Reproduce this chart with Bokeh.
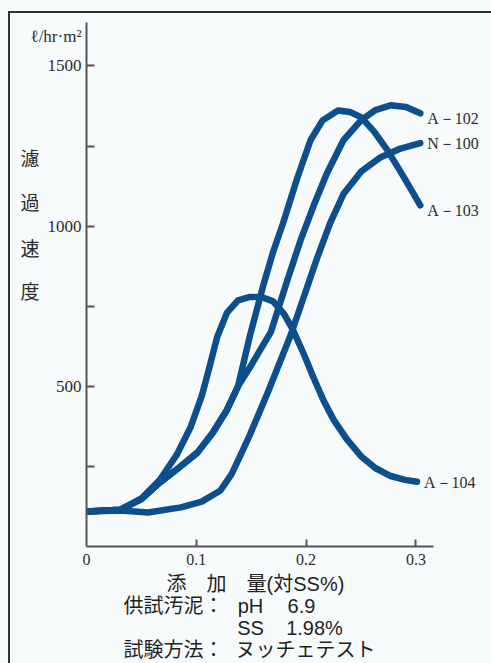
from bokeh.plotting import figure
from bokeh.models import Range1d, FixedTicker, LinearAxis
from bokeh.core.properties import value
from bokeh.embed import file_html
from bokeh.resources import INLINE

# Filtration rate (l/hr·m2) against polymer dose (% on SS) for four flocculants
dose_a102 = [0.000, 0.031, 0.050, 0.067, 0.085, 0.101, 0.115, 0.128, 0.138, 0.149, 0.168,
             0.183, 0.195, 0.207, 0.219, 0.234, 0.250, 0.263, 0.277, 0.291, 0.304]
rate_a102 = [109, 115, 148, 200, 248, 293, 355, 427, 500, 560, 670,
             832, 956, 1065, 1165, 1268, 1330, 1362, 1377, 1372, 1352]

dose_n100 = [0.000, 0.031, 0.056, 0.086, 0.105, 0.122, 0.132, 0.140, 0.149, 0.165,
             0.186, 0.201, 0.210, 0.222, 0.234, 0.250, 0.268, 0.286, 0.304]
rate_n100 = [109, 112, 106, 122, 140, 175, 225, 283, 350, 480,
             660, 810, 900, 1010, 1100, 1170, 1215, 1242, 1259]

dose_a103 = [0.000, 0.031, 0.050, 0.067, 0.085, 0.101, 0.115, 0.128, 0.138, 0.149, 0.161,
             0.170, 0.179, 0.192, 0.204, 0.215, 0.229, 0.240, 0.250, 0.262, 0.274, 0.289, 0.304]
rate_a103 = [109, 115, 148, 200, 248, 293, 355, 427, 500, 660, 815,
             920, 1009, 1150, 1268, 1330, 1361, 1356, 1340, 1295, 1237, 1153, 1065]

dose_a104 = [0.000, 0.031, 0.050, 0.067, 0.082, 0.095, 0.105, 0.112, 0.119, 0.128, 0.138,
             0.149, 0.160, 0.170, 0.180, 0.188, 0.198, 0.207, 0.216, 0.225, 0.237,
             0.250, 0.263, 0.277, 0.290, 0.301]
rate_a104 = [109, 115, 150, 209, 285, 374, 470, 560, 654, 730, 768,
             779, 778, 765, 725, 676, 600, 525, 455, 396, 335,
             282, 245, 220, 208, 202]

series_names = ["A－102", "N－100", "A－103", "A－104"]
x_ticks = [0.1, 0.2, 0.3]
y_ticks = [250, 500, 750, 1000, 1250, 1500]
y_labelled = [500, 1000, 1500]
unit_text = "ℓ/hr·m²"
y_title = ["濾", "過", "速", "度"]
x_title = "添　加　量(対SS%)"
notes = [["供試汚泥：", "pH", "6.9"],
         ["", "SS", "1.98%"],
         ["試験方法：", "ヌッチェテスト"]]

BG = "#f7fbfc"
INK = "#2b2b2b"
AXIS = "#555555"
CURVE = "#0c4f8c"

# page-pixel layout of the plotting frame
W, H = 491, 663
LEFT, TOP, BOTTOM = 86, 12, 547
PX_PER_X = 1098.0
PX_PER_Y = 0.321


def data_x(px):
    return round((px - LEFT) / PX_PER_X, 5)


def data_y(py):
    return round((BOTTOM - py) / PX_PER_Y, 2)


def quiet(axis):
    """Strip an axis down to its labels."""
    axis.axis_line_color = None
    axis.major_tick_line_color = None
    axis.minor_tick_line_color = None
    axis.major_tick_out = 0
    axis.major_tick_in = 0
    axis.minor_tick_out = 0
    axis.minor_tick_in = 0


p = figure(width=W, height=H, output_backend="svg", toolbar_location=None,
           x_range=Range1d(0, (W - LEFT) / PX_PER_X),
           y_range=Range1d(0, (BOTTOM - TOP) / PX_PER_Y),
           min_border_left=LEFT, min_border_right=0,
           min_border_top=TOP, min_border_bottom=H - BOTTOM)
p.background_fill_alpha = 0
p.border_fill_alpha = 0
p.outline_line_color = None
p.grid.visible = False
# paper tone with the ruled left and top edges
p.styles = {
    "background": (
        "linear-gradient(#333333, #333333) 8px 11px / 2px 652px no-repeat, "
        "linear-gradient(#333333, #333333) 8px 11px / 483px 2px no-repeat, " + BG
    )
}

# x axis: visible marks come from the minor ticks, labels from the major ones
xa = p.xaxis[0]
xa.ticker = FixedTicker(ticks=[0] + x_ticks, minor_ticks=x_ticks)
xa.major_label_overrides = {0: "0", 0.1: "0.1", 0.2: "0.2", 0.3: "0.3"}
xa.bounds = (0, 0.316)
xa.axis_line_color = AXIS
xa.axis_line_width = 2
xa.major_tick_line_color = None
xa.major_tick_in = 0
xa.major_tick_out = 0
xa.minor_tick_in = 7
xa.minor_tick_out = 0
xa.minor_tick_line_color = AXIS
xa.minor_tick_line_width = 2
xa.major_label_text_font = "Liberation Serif"
xa.major_label_text_font_size = "16px"
xa.major_label_text_color = INK
xa.major_label_standoff = 7

# y axis: same scheme, with the unit written at the top of the scale
unit_y = data_y(36)
ya = p.yaxis[0]
ya.ticker = FixedTicker(ticks=y_labelled + [unit_y], minor_ticks=y_ticks)
ya.major_label_overrides = {**{v: str(v) for v in y_labelled}, unit_y: unit_text}
ya.bounds = (0, data_y(22))
ya.axis_line_color = AXIS
ya.axis_line_width = 2
ya.major_tick_line_color = None
ya.major_tick_in = 0
ya.major_tick_out = 0
ya.minor_tick_in = 8
ya.minor_tick_out = 0
ya.minor_tick_line_color = AXIS
ya.minor_tick_line_width = 2
ya.major_label_text_font = "Liberation Serif"
ya.major_label_text_font_size = "17px"
ya.major_label_text_color = INK
ya.major_label_standoff = 5

# vertical title, one character per row
title_rows = [data_y(py) for py in (157, 201, 247, 291)]
ta = LinearAxis(ticker=FixedTicker(ticks=title_rows, minor_ticks=[]),
                major_label_overrides=dict(zip(title_rows, y_title)))
quiet(ta)
ta.major_label_text_font = "Noto Sans CJK JP"
ta.major_label_text_font_size = "19px"
ta.major_label_text_color = INK
ta.major_label_standoff = -12
p.add_layout(ta, "left")

# horizontal title and test conditions below the scale
col_title = data_x(255)
col_head = data_x(173)
col_ph = data_x(250)
col_ph_val = data_x(301)
col_ss_val = data_x(314)
col_method = data_x(305)
caption = {
    col_title: x_title + "\n\n\n",
    col_head: "\n" + notes[0][0] + "\n\n" + notes[2][0],
    col_ph: "\n" + notes[0][1] + "\n" + notes[1][1] + "\n",
    col_ph_val: "\n" + notes[0][2] + "\n\n",
    col_ss_val: "\n\n" + notes[1][2] + "\n",
    col_method: "\n\n\n" + notes[2][1],
}
ca = LinearAxis(ticker=FixedTicker(ticks=sorted(caption), minor_ticks=[]),
                major_label_overrides=caption)
quiet(ca)
ca.major_label_text_font = "Liberation Sans, Noto Sans CJK JP"
ca.major_label_text_font_size = "20px"
ca.major_label_text_color = "#1f1f1f"
ca.major_label_text_line_height = 1.0
ca.major_label_standoff = 5
p.add_layout(ca, "below")

# curves
curves = [(dose_a102, rate_a102), (dose_n100, rate_n100),
          (dose_a103, rate_a103), (dose_a104, rate_a104)]
for xs, ys in curves:
    p.line(xs, ys, line_color=CURVE, line_width=6.5, line_cap="round", line_join="round")

# series names at the end of each curve, nudged clear of the line ends
p.text(x=[c[0][-1] for c in curves], y=[c[1][-1] for c in curves], text=series_names,
       x_offset=7, y_offset=[5, 0, 5, 1], text_baseline="middle", text_align="left",
       text_font=value("Liberation Serif"), text_font_size="16px", text_color=INK)

open("out.html", "w").write(file_html(p, INLINE))
